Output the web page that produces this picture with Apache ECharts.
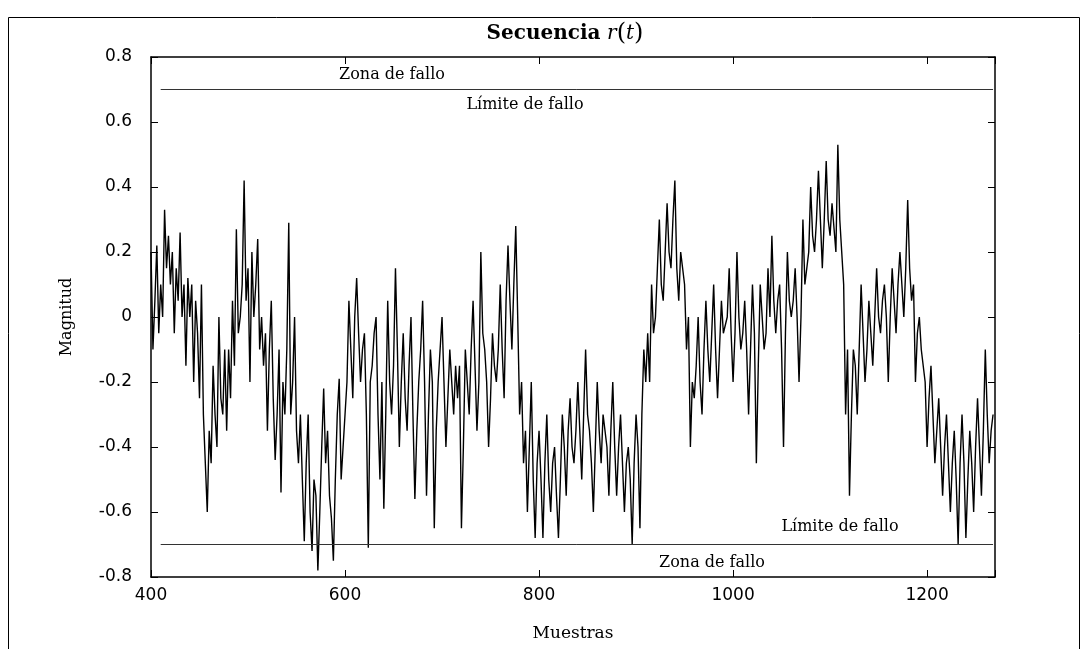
<!DOCTYPE html>
<html>
<head>
<meta charset="utf-8">
<script src="https://cdn.jsdelivr.net/npm/echarts@6/dist/echarts.min.js"></script>
<style>
  html, body { margin: 0; padding: 0; background: #fff; }
  #chart { width: 1090px; height: 649px; }
</style>
</head>
<body>
<div id="chart"></div>
<script>
// samples start at 400, one reading every 2 samples
var sampleStart = 400;
var sampleStep = 2;
var magnitud = [
  0.2, -0.1, 0.05, 0.22, -0.05, 0.1, 0.0, 0.33, 0.15, 0.25, 0.1, 0.2, -0.05, 0.15, 0.05, 0.26, 0.0, 0.1, -0.15, 0.12,
  0.0, 0.1, -0.2, 0.05, -0.05, -0.25, 0.1, -0.3, -0.45, -0.6, -0.35, -0.45, -0.15, -0.3, -0.4, 0.0, -0.25, -0.3, -0.1, -0.35,
  -0.1, -0.25, 0.05, -0.15, 0.27, -0.05, 0.0, 0.1, 0.42, 0.05, 0.15, -0.2, 0.2, 0.0, 0.1, 0.24, -0.1, 0.0, -0.15, -0.05,
  -0.35, -0.1, 0.05, -0.25, -0.44, -0.3, -0.1, -0.54, -0.2, -0.3, -0.1, 0.29, -0.3, -0.2, 0.0, -0.35, -0.45, -0.3, -0.5, -0.69,
  -0.45, -0.3, -0.6, -0.72, -0.5, -0.55, -0.78, -0.6, -0.4, -0.22, -0.45, -0.35, -0.55, -0.62, -0.75, -0.5, -0.3, -0.19, -0.5, -0.4,
  -0.3, -0.2, 0.05, -0.1, -0.25, 0.0, 0.12, -0.05, -0.2, -0.1, -0.05, -0.3, -0.71, -0.2, -0.15, -0.05, 0.0, -0.3, -0.5, -0.2,
  -0.59, -0.3, 0.05, -0.2, -0.3, -0.15, 0.15, -0.1, -0.4, -0.2, -0.05, -0.25, -0.35, -0.15, 0.0, -0.3, -0.56, -0.35, -0.2, -0.1,
  0.05, -0.2, -0.55, -0.3, -0.1, -0.2, -0.65, -0.35, -0.2, -0.1, 0.0, -0.2, -0.4, -0.25, -0.1, -0.2, -0.3, -0.15, -0.25, -0.15,
  -0.65, -0.4, -0.1, -0.2, -0.3, -0.1, 0.05, -0.15, -0.35, -0.2, 0.2, -0.05, -0.1, -0.2, -0.4, -0.25, -0.05, -0.15, -0.2, -0.1,
  0.1, -0.1, -0.25, 0.05, 0.22, 0.05, -0.1, 0.1, 0.28, 0.0, -0.3, -0.2, -0.45, -0.35, -0.6, -0.4, -0.2, -0.5, -0.68, -0.45,
  -0.35, -0.5, -0.68, -0.45, -0.3, -0.5, -0.6, -0.45, -0.4, -0.55, -0.68, -0.5, -0.3, -0.4, -0.55, -0.35, -0.25, -0.4, -0.45, -0.35,
  -0.2, -0.35, -0.5, -0.3, -0.1, -0.3, -0.35, -0.45, -0.6, -0.4, -0.2, -0.35, -0.45, -0.3, -0.3, -0.4, -0.55, -0.35, -0.2, -0.4,
  -0.55, -0.4, -0.3, -0.45, -0.6, -0.45, -0.4, -0.5, -0.7, -0.45, -0.3, -0.4, -0.65, -0.3, -0.1, -0.2, -0.05, -0.2, 0.1, -0.05,
  0.0, 0.15, 0.3, 0.1, 0.05, 0.2, 0.35, 0.2, 0.15, 0.3, 0.42, 0.15, 0.05, 0.2, 0.2, 0.1, -0.1, 0.0, -0.4, -0.2,
  -0.25, -0.15, 0.0, -0.2, -0.3, -0.1, 0.05, -0.1, -0.2, -0.05, 0.1, -0.1, -0.25, -0.1, 0.05, -0.05, -0.05, 0.0, 0.15, -0.05,
  -0.2, -0.05, 0.2, 0.0, -0.1, -0.05, 0.05, -0.1, -0.3, -0.1, 0.1, -0.05, -0.45, -0.15, 0.1, 0.0, -0.1, -0.05, 0.15, 0.0,
  0.25, 0.05, -0.05, 0.05, 0.1, -0.1, -0.4, -0.05, 0.2, 0.05, 0.0, 0.05, 0.15, 0.0, -0.2, 0.0, 0.3, 0.1, 0.1, 0.2,
  0.4, 0.25, 0.2, 0.3, 0.45, 0.3, 0.15, 0.3, 0.48, 0.3, 0.25, 0.35, 0.35, 0.2, 0.53, 0.3, 0.2, 0.1, -0.3, -0.1,
  -0.55, -0.3, -0.1, -0.15, -0.3, -0.1, 0.1, -0.05, -0.2, -0.1, 0.05, -0.05, -0.15, 0.0, 0.15, 0.0, -0.05, 0.05, 0.1, 0.0,
  -0.2, 0.0, 0.15, 0.05, -0.05, 0.1, 0.2, 0.1, 0.0, 0.15, 0.36, 0.15, 0.05, 0.1, -0.2, -0.05, 0.0, -0.1, -0.1, -0.2,
  -0.4, -0.25, -0.15, -0.3, -0.45, -0.35, -0.25, -0.4, -0.55, -0.4, -0.3, -0.45, -0.6, -0.45, -0.35, -0.5, -0.7, -0.45, -0.3, -0.45,
  -0.68, -0.5, -0.35, -0.45, -0.6, -0.4, -0.25, -0.4, -0.55, -0.35, -0.1, -0.3, -0.45, -0.35, -0.3
];
var xTicks = [400, 600, 800, 1000, 1200];
var limite = 0.7;
var limiteX = [410, 1268];

var serie = magnitud.map(function (v, i) { return [sampleStart + i * sampleStep, v]; });

var chart = echarts.init(document.getElementById('chart'));
var tickFont = { fontFamily: 'DejaVu Sans', fontSize: 17, color: '#000' };
var serif = 'DejaVu Serif';
var frameLine = { show: true, onZero: false, lineStyle: { color: '#000', width: 1.5 } };
var innerTick = { inside: true, length: 7, lineStyle: { color: '#000' } };

chart.setOption({
  animation: false,
  backgroundColor: '#fff',
  grid: { left: 151, right: 95, top: 57, bottom: 72 },
  xAxis: [{
    type: 'value', min: 400, max: 1270, interval: 200,
    axisLine: frameLine, axisTick: innerTick,
    axisLabel: Object.assign({ margin: 10,
      formatter: function (v) { return xTicks.indexOf(v) >= 0 ? String(v) : ''; } }, tickFont),
    splitLine: { show: false },
    name: 'Muestras', nameLocation: 'middle', nameGap: 48,
    nameTextStyle: { fontFamily: serif, fontSize: 17, color: '#000' }
  }, {
    type: 'value', position: 'top', min: 400, max: 1270, interval: 200,
    axisLine: frameLine, axisTick: innerTick,
    axisLabel: { show: false }, splitLine: { show: false }
  }],
  yAxis: [{
    type: 'value', min: -0.8, max: 0.8, interval: 0.2,
    axisLine: frameLine, axisTick: innerTick,
    axisLabel: Object.assign({ margin: 19 }, tickFont),
    splitLine: { show: false },
    name: 'Magnitud', nameLocation: 'middle', nameGap: 76, nameRotate: 90,
    nameTextStyle: { fontFamily: serif, fontSize: 16, color: '#000' }
  }, {
    type: 'value', position: 'right', min: -0.8, max: 0.8, interval: 0.2,
    axisLine: frameLine, axisTick: innerTick,
    axisLabel: { show: false }, splitLine: { show: false }
  }],
  series: [{
    type: 'line', data: serie, showSymbol: false,
    lineStyle: { color: '#000', width: 1.4 }
  }, {
    type: 'line', data: [[limiteX[0], limite], [limiteX[1], limite]], showSymbol: false,
    lineStyle: { color: '#333', width: 1 }
  }, {
    type: 'line', data: [[limiteX[0], -limite], [limiteX[1], -limite]], showSymbol: false,
    lineStyle: { color: '#333', width: 1 }
  }],
  graphic: [
    { type: 'rect', shape: { x: 8.5, y: 17.5, width: 1071, height: 650 }, silent: true,
      style: { fill: 'none', stroke: '#000', lineWidth: 1 } },
    { type: 'text', x: 565, y: 34, silent: true,
      style: { text: '{b|Secuencia}  {i|r}{p|(}{i|t}{p|)}', align: 'center', verticalAlign: 'middle',
        rich: {
          b: { fontFamily: serif, fontSize: 20, fontWeight: 'bold', fill: '#000' },
          i: { fontFamily: serif, fontSize: 20, fontStyle: 'italic', fill: '#000' },
          p: { fontFamily: serif, fontSize: 24, fill: '#000' }
        } } },
    { type: 'text', x: 392, y: 75, silent: true,
      style: { text: 'Zona de fallo', font: '16px "DejaVu Serif"', fill: '#000', align: 'center', verticalAlign: 'middle' } },
    { type: 'text', x: 525, y: 105, silent: true,
      style: { text: 'Límite de fallo', font: '16px "DejaVu Serif"', fill: '#000', align: 'center', verticalAlign: 'middle' } },
    { type: 'text', x: 840, y: 527, silent: true,
      style: { text: 'Límite de fallo', font: '16px "DejaVu Serif"', fill: '#000', align: 'center', verticalAlign: 'middle' } },
    { type: 'text', x: 712, y: 563, silent: true,
      style: { text: 'Zona de fallo', font: '16px "DejaVu Serif"', fill: '#000', align: 'center', verticalAlign: 'middle' } }
  ]
});
</script>
</body>
</html>
